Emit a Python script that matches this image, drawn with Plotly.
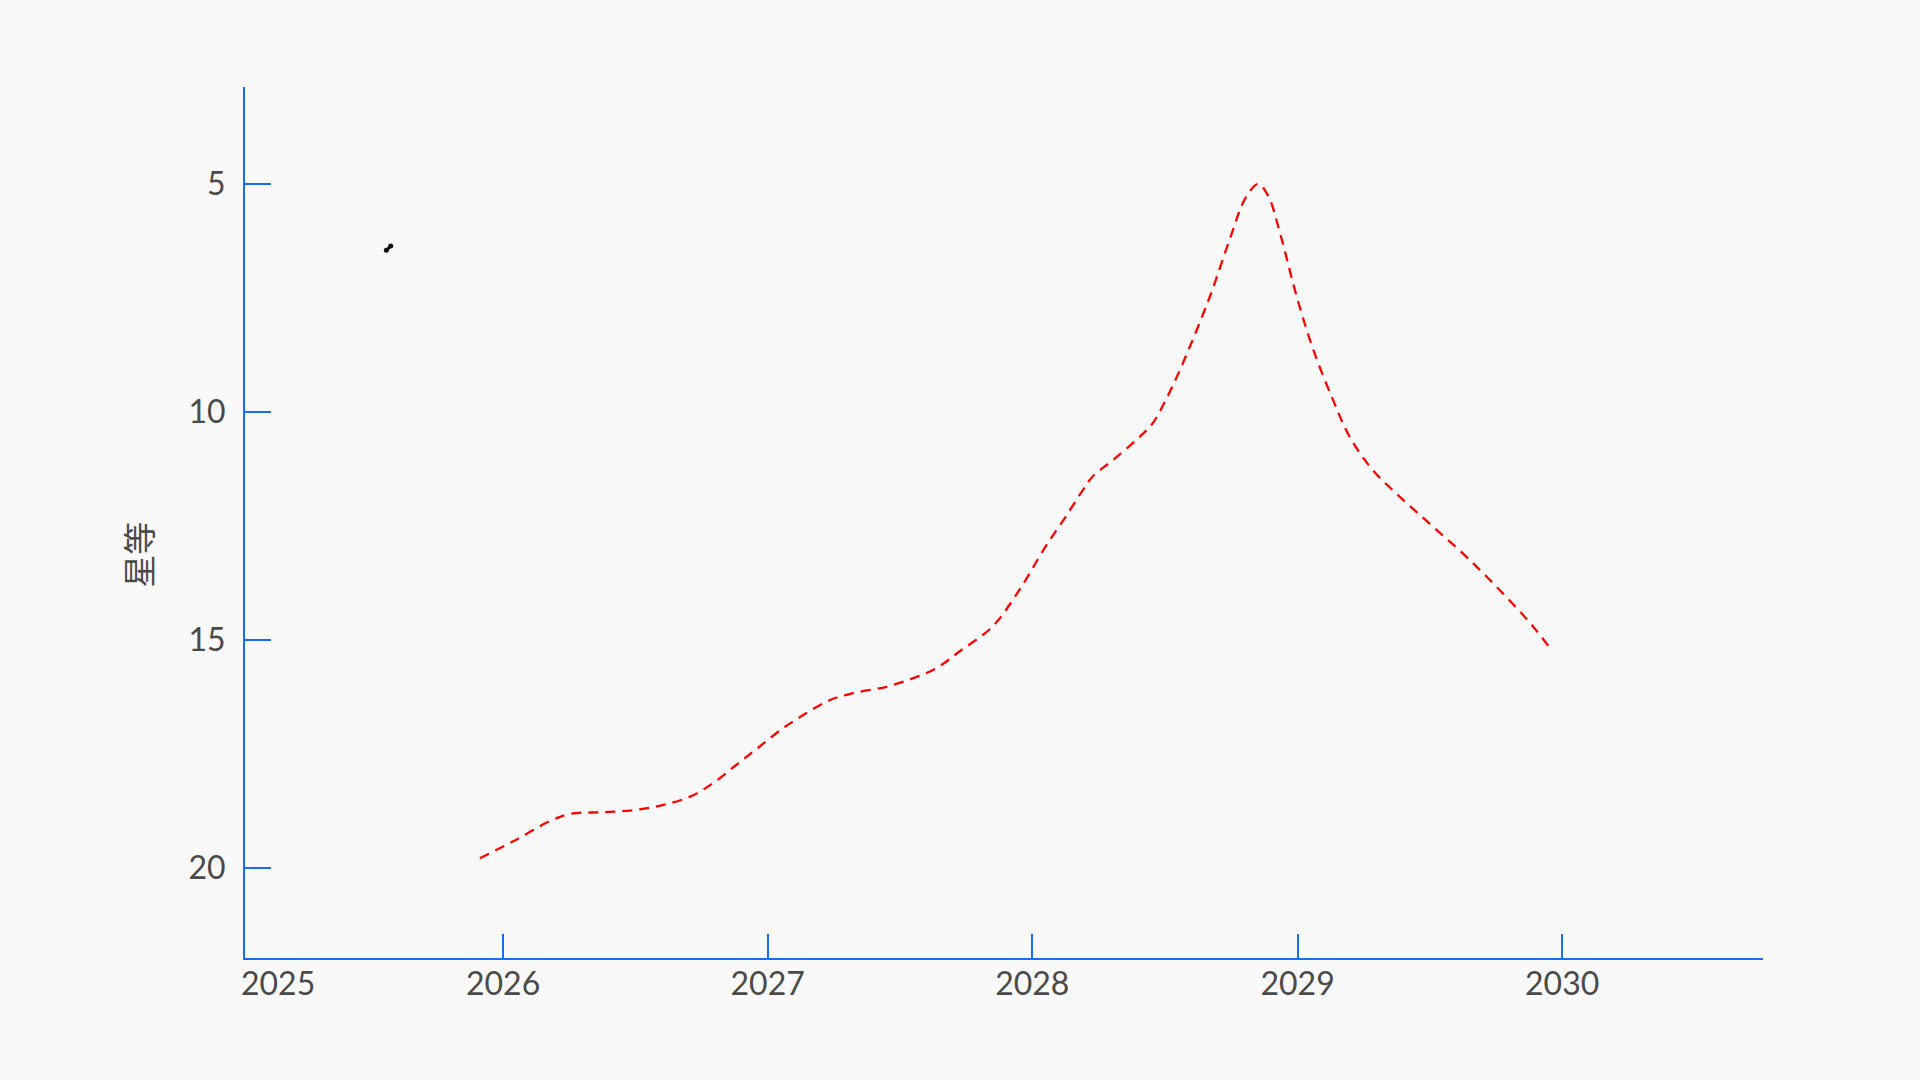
import plotly.graph_objects as go

# predicted magnitude curve
forecast_dates = [
    "2025-11-30", "2026-01-15", "2026-03-06", "2026-04-03", "2026-05-19",
    "2026-07-04", "2026-08-10", "2026-09-16", "2026-10-18", "2026-11-19",
    "2026-12-21", "2027-01-22", "2027-02-19", "2027-03-28", "2027-04-29",
    "2027-06-14", "2027-07-21", "2027-08-22", "2027-09-23", "2027-11-07",
    "2027-12-14", "2028-01-19", "2028-02-16", "2028-03-11", "2028-03-24",
    "2028-04-21", "2028-05-23", "2028-06-15", "2028-07-03", "2028-07-24",
    "2028-09-01", "2028-09-29", "2028-10-22", "2028-11-08", "2028-11-22",
    "2028-12-08", "2028-12-31", "2029-01-23", "2029-02-19", "2029-03-14",
    "2029-04-15", "2029-05-22", "2029-07-07", "2029-08-22", "2029-10-07",
    "2029-11-22", "2029-12-15",
]
forecast_mag = [
    19.79, 19.42, 18.98, 18.82, 18.78,
    18.73, 18.62, 18.44, 18.14, 17.74,
    17.34, 16.94, 16.65, 16.32, 16.17,
    16.03, 15.84, 15.62, 15.25, 14.71,
    13.91, 12.96, 12.30, 11.71, 11.42,
    11.06, 10.62, 10.25, 9.74, 9.03,
    7.51, 6.23, 5.28, 5.00, 5.28,
    6.09, 7.48, 8.65, 9.74, 10.55,
    11.28, 11.86, 12.52, 13.18, 13.91,
    14.71, 15.18,
]

# observed points
obs_dates = ["2025-07-24", "2025-07-30"]
obs_mag = [6.45, 6.36]

year_ticks = ["2026-01-01", "2027-01-01", "2028-01-01", "2029-01-01", "2030-01-01"]
year_labels = ["2026", "2027", "2028", "2029", "2030"]
mag_ticks = [5, 10, 15, 20]

x_start = "2025-01-10"
x_end = "2030-10-05"
first_year_label = "2025"
y_title = "星等"

AXIS_BLUE = "#1a6cf5"
TEXT_GREY = "#4a4a4a"
BG = "#f9f9f9"
TICK_FONT = dict(family="Lato", size=32, color=TEXT_GREY)

fig = go.Figure()

fig.add_trace(go.Scatter(
    x=forecast_dates,
    y=forecast_mag,
    mode="lines",
    line=dict(color="#ff0000", width=2.3, dash="10px,7px", shape="spline", smoothing=1.0),
    showlegend=False,
    hoverinfo="skip",
))

fig.add_trace(go.Scatter(
    x=obs_dates,
    y=obs_mag,
    mode="lines+markers",
    line=dict(color="#111111", width=3),
    marker=dict(color="#111111", size=5),
    showlegend=False,
))

# first year label sits at the left end of the axis
fig.add_annotation(
    x=x_start, xref="x",
    y=0, yref="paper",
    xanchor="left", yanchor="top",
    xshift=-6,
    yshift=-3,
    text=first_year_label,
    showarrow=False,
    font=TICK_FONT,
)

# y title, a bit below the middle of the axis
fig.add_annotation(
    x=0, xref="paper",
    y=0.463, yref="paper",
    xanchor="center", yanchor="middle",
    xshift=-107,
    textangle=-90,
    text=y_title,
    showarrow=False,
    font=dict(family="Noto Sans CJK SC", size=33, color=TEXT_GREY),
)

fig.update_layout(
    width=1920,
    height=1080,
    paper_bgcolor=BG,
    plot_bgcolor=BG,
    font=dict(family="Lato", size=32, color=TEXT_GREY),
    margin=dict(l=245, r=157, t=87, b=122, autoexpand=False),
    showlegend=False,
)

fig.update_xaxes(
    type="date",
    range=[x_start, x_end],
    tickvals=year_ticks,
    ticktext=year_labels,
    ticks="inside",
    ticklen=24,
    tickwidth=2,
    tickcolor=AXIS_BLUE,
    showline=True,
    linecolor=AXIS_BLUE,
    linewidth=2,
    showgrid=False,
    zeroline=False,
    ticklabelstandoff=-3,
    tickfont=TICK_FONT,
)

fig.update_yaxes(
    range=[21.98, 2.87],
    tickvals=mag_ticks,
    ticks="inside",
    ticklen=26,
    tickwidth=2,
    tickcolor=AXIS_BLUE,
    showline=True,
    linecolor=AXIS_BLUE,
    linewidth=2,
    showgrid=False,
    zeroline=False,
    ticklabelstandoff=11,
    tickfont=TICK_FONT,
)

fig.write_html(
    "out.html",
    config={"displayModeBar": False},
    post_script="document.body.style.margin='0';"
                "document.body.style.background='#f9f9f9';"
                "document.body.style.overflow='hidden';",
)
